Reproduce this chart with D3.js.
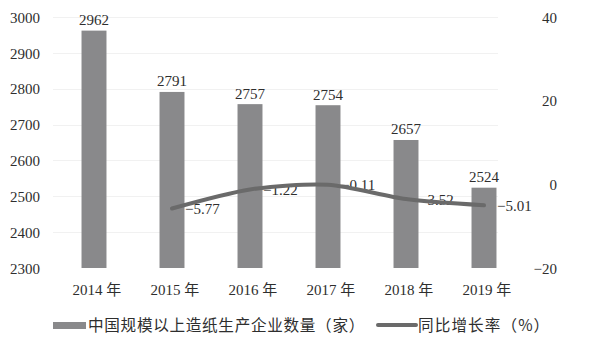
<!DOCTYPE html>
<html><head><meta charset="utf-8">
<script src="https://cdn.jsdelivr.net/npm/d3@7"></script>
<style>
html,body{margin:0;padding:0;background:#fff;}
svg text{font-family:"Liberation Serif","Noto Sans CJK SC",serif;fill:#2e2e2e;}
</style></head>
<body>
<svg id="c" width="606" height="339"></svg>
<script>
const categories = ["2014 年","2015 年","2016 年","2017 年","2018 年","2019 年"];
const enterpriseCounts = [2962, 2791, 2757, 2754, 2657, 2524];
const growthCategories = ["2015 年","2016 年","2017 年","2018 年","2019 年"];
const growthRates = [-5.77, -1.22, -0.11, -3.52, -5.01];
const leftTicks = [2300, 2400, 2500, 2600, 2700, 2800, 2900, 3000];
const rightTicks = [-20, 0, 20, 40];
const seriesNames = ["中国规模以上造纸生产企业数量（家）", "同比增长率（%）"];

const svg = d3.select("#c");
const x = d3.scaleBand().domain(categories).range([55, 523]).paddingInner(0.68).paddingOuter(0.34);
const yL = d3.scaleLinear().domain([2300, 3000]).range([268, 17]);
const yR = d3.scaleLinear().domain([-20, 40]).range([268, 17]);
const fmt = v => (v < 0 ? "\u2212" + Math.abs(v).toFixed(2) : v.toFixed(2));

// gridlines
svg.append("g").selectAll("line").data(leftTicks.slice(1)).join("line")
  .attr("x1", 53).attr("x2", 498)
  .attr("y1", d => Math.round(yL(d)) + 0.5).attr("y2", d => Math.round(yL(d)) + 0.5)
  .attr("stroke", "#f1f1f1").attr("stroke-width", 1);

// left axis
const axL = svg.append("g").attr("transform", "translate(40,0)")
  .call(d3.axisLeft(yL).tickValues(leftTicks).tickSize(0).tickPadding(0).tickFormat(d3.format("d")));
axL.select(".domain").remove();
axL.selectAll("text").attr("font-size", 15).attr("dy", "0.35em")
  .style("font-family", "Liberation Serif").attr("fill", "#2e2e2e");

// right axis
const axR = svg.append("g").attr("transform", "translate(557,0)")
  .call(d3.axisLeft(yR).tickValues(rightTicks).tickSize(0).tickPadding(0)
    .tickFormat(d => d < 0 ? "\u2212" + Math.abs(d) : d));
axR.select(".domain").remove();
axR.selectAll("text").attr("font-size", 15).attr("dy", "0.35em")
  .style("font-family", "Liberation Serif").attr("fill", "#2e2e2e");

// bars
svg.append("g").selectAll("rect").data(enterpriseCounts).join("rect")
  .attr("x", (d, i) => x(categories[i]))
  .attr("width", x.bandwidth())
  .attr("y", d => yL(d))
  .attr("height", d => yL(2300) - yL(d))
  .attr("fill", "#89898b");

// bar labels
svg.append("g").selectAll("text").data(enterpriseCounts).join("text")
  .attr("x", (d, i) => x(categories[i]) + x.bandwidth() / 2)
  .attr("y", d => yL(d) - 5.5)
  .attr("text-anchor", "middle").attr("font-size", 15)
  .text(d => d);

// category labels
svg.append("g").selectAll("text").data(categories).join("text")
  .attr("x", d => x(d) + x.bandwidth() / 2 + 3)
  .attr("y", 295)
  .attr("text-anchor", "middle").attr("font-size", 15)
  .text(d => d);

// line labels (drawn under the line)
const cx = c => x(c) + x.bandwidth() / 2;
svg.append("g").selectAll("text").data(growthRates).join("text")
  .attr("x", (d, i) => cx(growthCategories[i]) + 13)
  .attr("y", d => yR(d) + 5.5)
  .attr("font-size", 15)
  .text(d => fmt(d));

// line
const line = d3.line().x((d, i) => cx(growthCategories[i])).y(d => yR(d)).curve(d3.curveCardinal.tension(0.2));
svg.append("path").datum(growthRates).attr("d", line)
  .attr("fill", "none").attr("stroke", "#6a6a6a").attr("stroke-width", 4).attr("stroke-linecap", "round");

// legend
const lg = svg.append("g");
lg.append("rect").attr("x", 53).attr("y", 322).attr("width", 33).attr("height", 7).attr("fill", "#89898b");
lg.append("text").attr("x", 88).attr("y", 331).attr("font-size", 15.6).attr("letter-spacing", 0.7)
  .style("font-family", "Noto Sans CJK SC").text(seriesNames[0]);
lg.append("line").attr("x1", 378).attr("x2", 416).attr("y1", 325).attr("y2", 325)
  .attr("stroke", "#6a6a6a").attr("stroke-width", 4).attr("stroke-linecap", "round");
lg.append("text").attr("x", 418).attr("y", 331).attr("font-size", 15.6).attr("letter-spacing", 1.1)
  .style("font-family", "Noto Sans CJK SC").text(seriesNames[1]);
</script>
</body></html>
